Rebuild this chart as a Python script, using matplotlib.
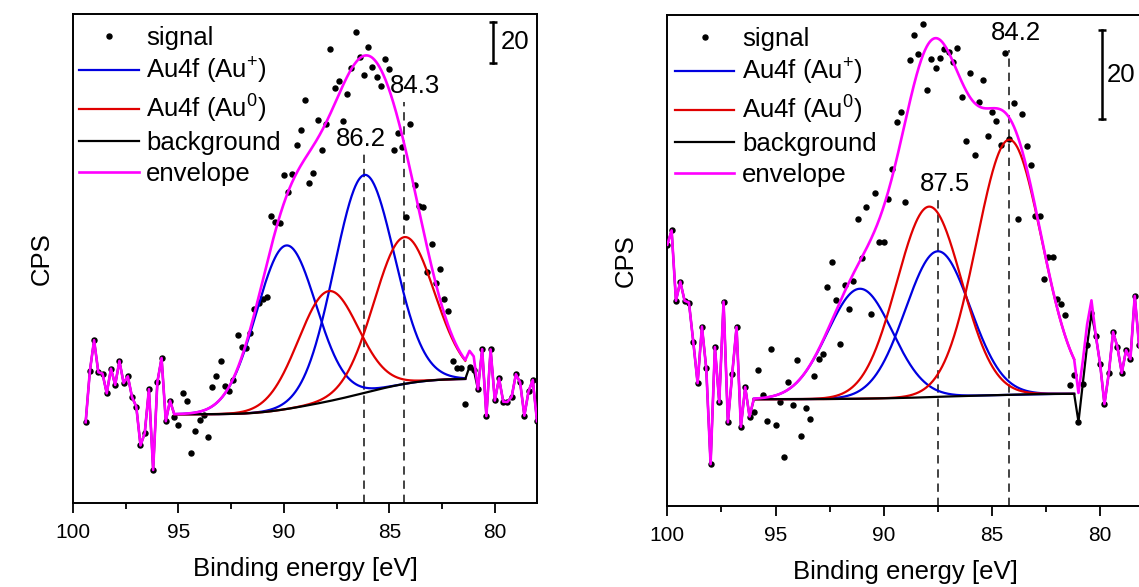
import numpy as np
import matplotlib
matplotlib.use("Agg")
import matplotlib.pyplot as plt
from matplotlib.ticker import MultipleLocator
from matplotlib.lines import Line2D

plt.rcParams['font.family'] = ['Liberation Sans', 'DejaVu Sans']
plt.rcParams['mathtext.fontset'] = 'custom'
plt.rcParams['mathtext.rm'] = 'Liberation Sans'
plt.rcParams['mathtext.it'] = 'Liberation Sans:italic'
plt.rcParams['mathtext.bf'] = 'Liberation Sans:bold'

# ---------------- data: left panel ----------------
energy_left = np.round(np.arange(99.4, 77.95, -0.2), 1)
signal_left = [
    39.4, 64.4, 79.4, 63.8, 63.1, 53.5, 65.5, 57.6, 69.3, 58.5,
    61.8, 51.6, 47.0, 28.1, 34.0, 55.5, 16.1, 59.0, 70.7, 39.9,
    49.9, 42.1, 38.0, 53.5, 49.9, 24.2, 35.3, 40.5, 42.8, 32.0,
    56.4, 61.8, 69.4, 56.9, 54.8, 60.1, 82.1, 76.0, 75.5, 82.8,
    94.6, 97.6, 99.5, 100.3, 139.9, 136.9, 136.4, 160.1, 151.9, 160.5,
    174.6, 182.0, 196.7, 156.0, 161.1, 186.8, 172.2, 184.9, 221.5, 202.4,
    206.0, 186.2, 199.5, 212.0, 229.6, 217.4, 208.8, 222.3, 212.8, 208.0,
    203.6, 216.6, 211.7, 172.2, 180.3, 173.5, 139.4, 184.9, 155.3, 144.9,
    144.2, 112.5, 126.3, 107.2, 114.1, 99.5, 93.8, 69.4, 65.7, 65.7,
    48.3, 66.5, 65.0, 55.5, 75.0, 42.4, 74.9, 50.0, 60.8, 49.4,
    49.3, 51.9, 62.8, 58.8, 42.6, 54.5, 60.0, 39.9]
fit_window_left = (95.2, 81.4)
peak_center_left = [89.9, 86.2, 87.9, 84.3]
peak_height_left = [79.8, 106.3, 53.7, 71.6]
peak_sigma_left = [1.42, 1.42, 1.42, 1.42]
peak_state_left = ['Au+', 'Au+', 'Au0', 'Au0']
background_ends_left = (43.3, 60.5)
envelope_excess_left = [7.7, 6.5]
marked_left = [86.2, 84.3]

# ---------------- data: right panel ----------------
energy_right = np.round(np.arange(100.0, 77.95, -0.2), 1)
signal_right = [
    58.7, 61.9, 46.1, 50.4, 46.1, 45.7, 36.9, 27.6, 40.3, 30.9,
    9.4, 35.7, 23.3, 45.9, 18.8, 29.7, 40.2, 17.8, 26.7, 20.1,
    21.1, 30.6, 24.9, 19.2, 35.3, 18.2, 23.4, 10.9, 27.8, 22.8,
    32.7, 15.8, 22.0, 19.6, 29.3, 33.0, 34.2, 49.1, 54.9, 46.3,
    36.4, 49.7, 44.3, 50.5, 64.5, 55.7, 67.1, 43.1, 70.3, 59.3,
    59.3, 69.0, 75.7, 86.2, 88.5, 68.2, 100.1, 105.7, 101.6, 108.2,
    93.5, 100.4, 98.4, 100.6, 102.7, 102.0, 99.7, 102.9, 91.9, 81.9,
    97.2, 78.9, 90.7, 95.6, 83.2, 88.6, 86.6, 81.1, 101.7, 82.5,
    90.5, 64.5, 88.1, 80.8, 76.6, 65.1, 65.1, 51.0, 55.9, 55.9,
    46.5, 45.4, 42.9, 27.2, 29.4, 18.9, 27.4, 36.1, 43.3, 38.3,
    31.9, 22.9, 29.8, 39.1, 35.7, 29.9, 35.0, 33.0, 47.2, 36.1, 33.0]
fit_window_right = (96.0, 81.2)
peak_center_right = [91.1, 87.5, 87.9, 84.2]
peak_height_right = [24.7, 32.7, 42.8, 57.3]
peak_sigma_right = [1.5, 1.5, 1.5, 1.5]
peak_state_right = ['Au+', 'Au+', 'Au0', 'Au0']
background_ends_right = (24.0, 25.2)
envelope_excess_right = [6.5, 5.2, 4.7, 2.9]
marked_right = [87.5, 84.2]

legend_labels = ['signal', 'Au4f (Au$^{\\mathregular{+}}$)', 'Au4f (Au$^{\\mathregular{0}}$)',
                 'background', 'envelope']

BLUE = '#0000e0'
RED = '#e00000'
MAG = '#ff00ff'
FS = 18.5
TICK_FS = 15


def gauss(x, c, h, s):
    return h * np.exp(-0.5 * ((x - c) / s) ** 2)


def draw_panel(ax, energy, signal, window, centers, heights, sigmas, states,
               bg_ends, env_excess, ylim, marks, mark_tops, mark_labels,
               bar_x, bar_y0, text_x, ylabel_pad, legend_dx):
    energy = np.asarray(energy)
    signal = np.asarray(signal, float)
    e_hi, e_lo = window
    xf = np.linspace(e_hi, e_lo, 700)
    comps = [gauss(xf, c, h, s) for c, h, s in zip(centers, heights, sigmas)]
    total = np.sum(comps, axis=0)
    cum = np.cumsum(total)
    cum = cum / cum[-1]
    bg = bg_ends[0] + (bg_ends[1] - bg_ends[0]) * cum

    left = energy > e_hi + 1e-6
    right = energy < e_lo - 1e-6
    extra = np.zeros(right.sum())
    extra[:len(env_excess)] = env_excess

    env_x = np.concatenate([energy[left], xf, energy[right]])
    env_y = np.concatenate([signal[left], bg + total, signal[right] + extra])
    bg_y = np.concatenate([signal[left], bg, signal[right]])

    ax.plot(energy, signal, 'o', color='black', ms=3.6, mec='black', zorder=2)
    for comp, st in zip(comps, states):
        ax.plot(xf, bg + comp, color=BLUE if st == 'Au+' else RED, lw=1.6, zorder=3)
    ax.plot(env_x, bg_y, color='black', lw=1.6, zorder=4)
    ax.plot(env_x, env_y, color=MAG, lw=1.9, zorder=5)

    for m, top, (lx, ly, txt) in zip(marks, mark_tops, mark_labels):
        ax.plot([m, m], [0, top], color='#222222', lw=1.2, ls=(0, (5, 3.5)), zorder=1)
        ax.text(lx, ly, txt, fontsize=FS, ha='center', va='center', zorder=6)

    # 20-count scale bar
    ax.plot([bar_x, bar_x], [bar_y0, bar_y0 + 20], color='black', lw=1.8)
    ax.plot([bar_x, bar_x], [bar_y0, bar_y0 + 20], ls='none', marker='_',
            ms=6, mew=1.8, color='black')
    ax.text(text_x, bar_y0 + 10, '20', fontsize=FS, ha='left', va='center')

    ax.set_xlim(100, 78)
    ax.set_ylim(*ylim)
    ax.set_yticks([])
    ax.xaxis.set_major_locator(MultipleLocator(5))
    ax.xaxis.set_minor_locator(MultipleLocator(2.5))
    ax.tick_params(axis='x', which='major', direction='out', length=7, width=1.3,
                   labelsize=TICK_FS, pad=7.5, top=False)
    ax.tick_params(axis='x', which='minor', direction='out', length=4, width=1.3, top=False)
    for sp in ax.spines.values():
        sp.set_linewidth(1.4)
    ax.set_xlabel('Binding energy [eV]', fontsize=FS, labelpad=11)
    ax.set_ylabel('CPS', fontsize=FS, labelpad=ylabel_pad)

    handles = [
        Line2D([], [], ls='none', marker='o', ms=3.6, color='black'),
        Line2D([], [], color=BLUE, lw=1.6),
        Line2D([], [], color=RED, lw=1.6),
        Line2D([], [], color='black', lw=1.6),
        Line2D([], [], color=MAG, lw=1.9),
    ]
    ax.legend(handles, legend_labels, loc='upper left', bbox_to_anchor=(legend_dx, 1),
              frameon=False, fontsize=FS, handlelength=2.3, handletextpad=0.3,
              borderaxespad=0.0, borderpad=0.45, labelspacing=0.25, numpoints=1)


fig = plt.figure(figsize=(11.39, 5.87), dpi=100)
W, H = 1139.0, 587.0
axL = fig.add_axes([73 / W, (H - 503) / H, 464 / W, 489 / H])
axR = fig.add_axes([667.3 / W, (H - 506) / H, 476.1 / W, 491 / H])

draw_panel(axL, energy_left, signal_left, fit_window_left, peak_center_left,
           peak_height_left, peak_sigma_left, peak_state_left,
           background_ends_left, envelope_excess_left, (0, 238.5),
           marked_left, [170.2, 195.8],
           [(86.33, 177.6, '86.2'), (83.79, 203.6, '84.3')],
           80.1, 214.8, 79.74, 14, -0.011)

draw_panel(axR, energy_right, signal_right, fit_window_right, peak_center_right,
           peak_height_right, peak_sigma_right, peak_state_right,
           background_ends_right, envelope_excess_right, (0, 110.3),
           marked_right, [69.5, 102.5],
           [(87.17, 72.4, '87.5'), (83.9, 106.2, '84.2')],
           79.9, 86.9, 79.69, 21, -0.008)

fig.savefig('out.png', dpi=100)
